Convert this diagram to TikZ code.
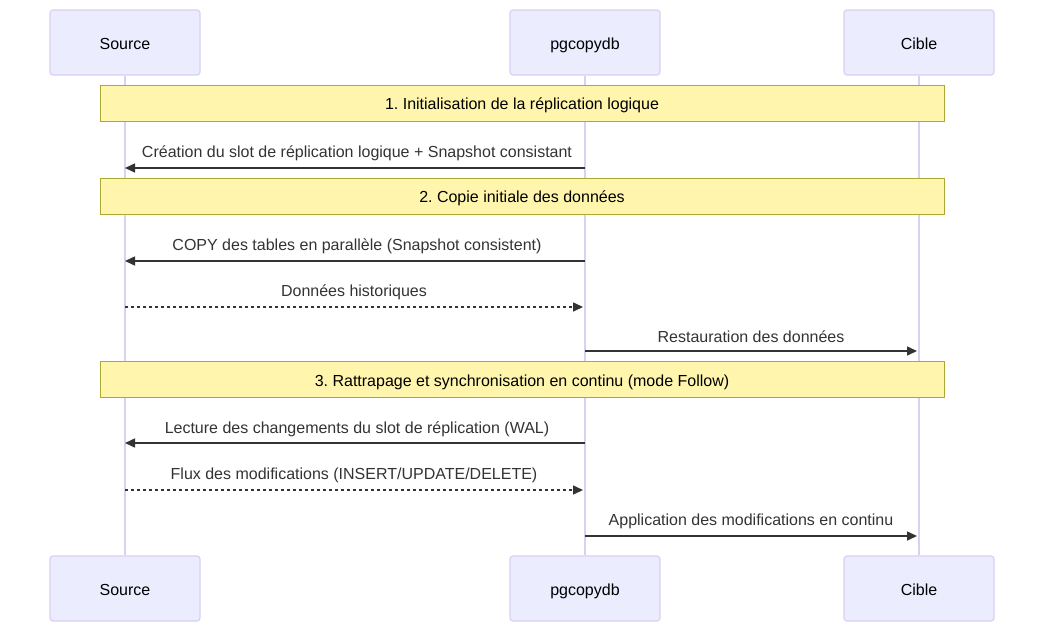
\documentclass[tikz,border=0pt]{standalone}
\usepackage{fontspec}
\setmainfont{Liberation Sans}
\usetikzlibrary{arrows.meta}
\definecolor{actorfill}{HTML}{ECECFF}
\definecolor{actorline}{HTML}{D9D0F2}
\definecolor{notefill}{HTML}{FFF5AD}
\definecolor{noteline}{HTML}{AAAA33}
\definecolor{msgcolor}{HTML}{333333}
\frenchspacing

\begin{document}
\begin{tikzpicture}[x=1pt,y=-1pt,font=\fontsize{16}{19}\selectfont,
		txt/.style = {text height=14pt, text depth=0.5pt},
		actor/.style = {txt, draw=actorline, fill=actorfill, line width=1.2pt, rounded corners=3pt, minimum width=150pt, minimum height=65pt},
		note/.style = {txt, draw=noteline, fill=notefill, line width=1pt, minimum width=844pt, minimum height=36pt},
		msg/.style = {msgcolor, line width=1.5pt, -{Triangle[length=10pt,width=9pt]}},
		reply/.style = {msg, dash pattern=on 3pt off 3pt},
		lbl/.style = {txt, text=msgcolor, inner sep=0pt}]
				\useasboundingbox (0,0) rectangle (1044,632);
				% acteurs
				\begin{scope}[every node/.style={actor}]
					\node (srcTop) at (125,42.5) {Source};
					\node (pgTop) at (585,42.5) {pgcopydb};
					\node (cibTop) at (919,42.5) {Cible};
					\node (srcBot) at (125,588.5) {Source};
					\node (pgBot) at (585,588.5) {pgcopydb};
					\node (cibBot) at (919,588.5) {Cible};
				\end{scope}
				% lignes de vie
				\draw [actorline,line width=1.2pt] (srcTop) -- (srcBot);
				\draw [actorline,line width=1.2pt] (pgTop) -- (pgBot);
				\draw [actorline,line width=1.2pt] (cibTop) -- (cibBot);
				% notes
				\begin{scope}[every node/.style={note}]
					\node (n1) at (522,103) {1. Initialisation de la réplication logique};
					\node (n2) at (522,196) {2. Copie initiale des données};
					\node (n3) at (522,379.5) {3. Rattrapage et synchronisation en continu (mode Follow)};
				\end{scope}
				% points des messages
				\coordinate (s1) at (125,168); \coordinate (p1) at (585,168);
				\coordinate (s2) at (125,261); \coordinate (p2) at (585,261);
				\coordinate (s3) at (125,307); \coordinate (p3) at (583,307);
				\coordinate (p4) at (585,351); \coordinate (c4) at (917,351);
				\coordinate (s5) at (125,443); \coordinate (p5) at (585,443);
				\coordinate (s6) at (125,490); \coordinate (p6) at (583,490);
				\coordinate (p7) at (585,536); \coordinate (c7) at (917,536);
				% messages
				\draw [msg] (p1) -- (s1);
				\draw [msg] (p2) -- (s2);
				\draw [reply] (s3) -- (p3);
				\draw [msg] (p4) -- (c4);
				\draw [msg] (p5) -- (s5);
				\draw [reply] (s6) -- (p6);
				\draw [msg] (p7) -- (c7);
				\begin{scope}[every node/.style={lbl}]
					\node (l1) at (357,151) {Création du slot de réplication logique + Snapshot consistant};
					\node (l2) at (357,244) {COPY des tables en parallèle (Snapshot consistent)};
					\node (l3) at (354,290) {Données historiques};
					\node (l4) at (751,336) {Restauration des données};
					\node (l5) at (357,427) {Lecture des changements du slot de réplication (WAL)};
					\node (l6) at (354,473) {Flux des modifications (INSERT/UPDATE/DELETE)};
					\node (l7) at (751,519) {Application des modifications en continu};
				\end{scope}
			\end{tikzpicture}
\end{document}
